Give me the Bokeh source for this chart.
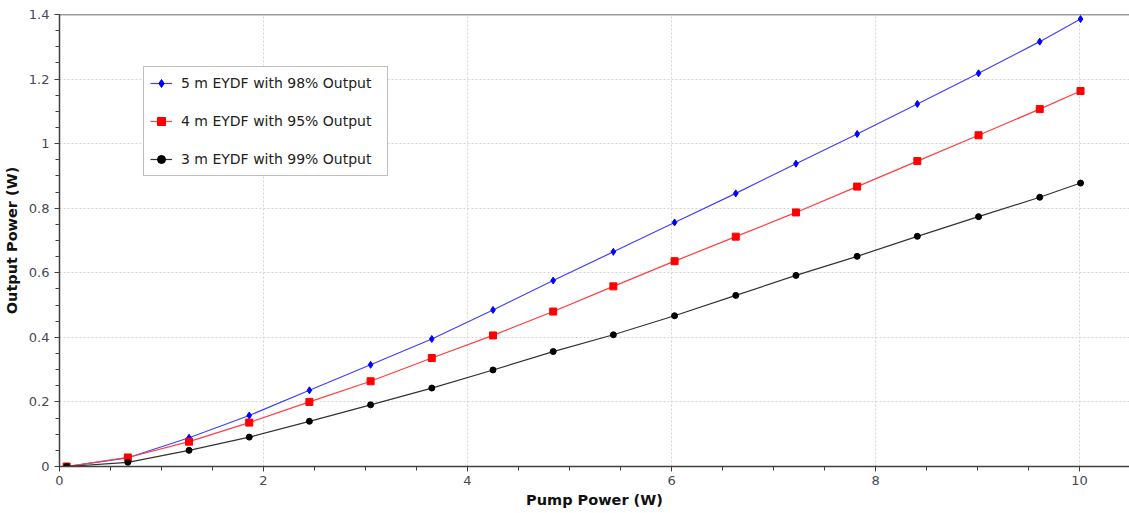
from bokeh.plotting import figure
from bokeh.models import Range1d, Span
from bokeh.embed import file_html
from bokeh.resources import INLINE

pump_power = [0.07, 0.67, 1.27, 1.86, 2.45, 3.05, 3.65, 4.25, 4.84, 5.43,
              6.03, 6.63, 7.22, 7.82, 8.41, 9.01, 9.61, 10.01]
out_5m = [0.0, 0.027, 0.089, 0.158, 0.236, 0.315, 0.395, 0.485, 0.576, 0.665,
          0.756, 0.846, 0.938, 1.03, 1.123, 1.218, 1.316, 1.386]
out_4m = [0.0, 0.028, 0.077, 0.136, 0.2, 0.264, 0.336, 0.406, 0.48, 0.558,
          0.636, 0.712, 0.787, 0.867, 0.946, 1.026, 1.107, 1.163]
out_3m = [0.0, 0.013, 0.05, 0.091, 0.14, 0.191, 0.243, 0.299, 0.356, 0.408,
          0.467, 0.53, 0.592, 0.651, 0.713, 0.774, 0.834, 0.878]
labels = ["5 m EYDF with 98% Output", "4 m EYDF with 95% Output", "3 m EYDF with 99% Output"]

FONT = "DejaVu Sans"

p = figure(width=1129, height=513, output_backend="svg", toolbar_location=None,
           x_range=Range1d(0, 10.49), y_range=Range1d(0, 1.4001),
           min_border_left=59, min_border_right=0, min_border_top=14, min_border_bottom=47)
p.outline_line_color = None
p.background_fill_color = "white"

# series
p.line(pump_power, out_5m, line_color="#4040ff", line_width=1.2, legend_label=labels[0])
p.scatter(pump_power, out_5m, marker="diamond", size=7, fill_color="#0000ff",
          line_color="#0000ff", legend_label=labels[0])
p.line(pump_power, out_4m, line_color="#ff4040", line_width=1.2, legend_label=labels[1])
p.scatter(pump_power, out_4m, marker="square", size=7, fill_color="#ff0000",
          line_color="#ff0000", legend_label=labels[1])
p.line(pump_power, out_3m, line_color="#333333", line_width=1.2, legend_label=labels[2])
p.scatter(pump_power, out_3m, marker="circle", size=6, fill_color="#000000",
          line_color="#000000", legend_label=labels[2])

p.add_layout(Span(location=1.4001, dimension="width", line_color="#404040", line_width=1.5))

# axes
for ax in (p.xaxis[0], p.yaxis[0]):
    ax.axis_line_color = "#404040"
    ax.axis_line_width = 1.5
    ax.major_tick_line_color = "#404040"
    ax.minor_tick_line_color = "#404040"
    ax.major_tick_in = 0
    ax.major_tick_out = 5
    ax.minor_tick_in = 0
    ax.minor_tick_out = 4
    ax.major_label_text_font = FONT
    ax.major_label_text_font_size = "13px"
    ax.major_label_text_color = "#454a55"
    ax.axis_label_text_font = FONT
    ax.axis_label_text_font_size = "14.5px"
    ax.axis_label_text_font_style = "bold"
    ax.axis_label_text_color = "#111111"

p.xaxis.axis_label = "Pump Power (W)"
p.yaxis.axis_label = "Output Power (W)"
p.xaxis.ticker.desired_num_ticks = 6
p.xaxis.ticker.num_minor_ticks = 4
p.yaxis.ticker.desired_num_ticks = 8
p.yaxis.ticker.num_minor_ticks = 4
p.xaxis.major_label_standoff = 4
p.yaxis.major_label_standoff = 5
p.xaxis.axis_label_standoff = 4
p.yaxis.axis_label_standoff = 6

# grid
p.xgrid.grid_line_color = "#d4d4d4"
p.ygrid.grid_line_color = "#d4d4d4"
p.xgrid.grid_line_dash = "2 2"
p.ygrid.grid_line_dash = "2 2"

# legend
lg = p.legend[0]
lg.location = (84, 290)
lg.border_line_color = "#808080"
lg.border_line_width = 1
lg.background_fill_alpha = 1
lg.padding = 6
lg.spacing = 18
lg.glyph_height = 20
lg.glyph_width = 22
lg.label_height = 20
lg.label_width = 200
lg.label_standoff = 9
lg.label_text_font = FONT
lg.label_text_font_size = "14px"
lg.label_text_color = "#222222"
lg.margin = 0

open("out.html", "w").write(file_html(p, INLINE))
